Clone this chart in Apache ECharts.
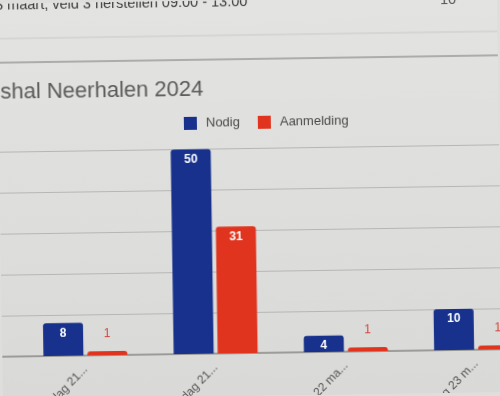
<!DOCTYPE html>
<html>
<head>
<meta charset="utf-8">
<script src="https://cdn.jsdelivr.net/npm/echarts@6/dist/echarts.min.js"></script>
<style>
  html, body { margin: 0; padding: 0; background: #dededc; overflow: hidden; width: 500px; height: 396px; }
  #c { width: 500px; height: 396px; transform: rotate(-0.85deg); transform-origin: 250px 198px; }
</style>
</head>
<body>
<div id="c"></div>
<script>
const headerText = '3 maart, veld 3 herstellen 09.00 - 13.00';
const headerCount = '10';
const titleText = 'shal Neerhalen 2024';
const seriesNames = ['Nodig', 'Aanmelding'];
const categories = [
  'Donderdag 21 maart 09.00 - 13.00',
  'Donderdag 21 maart 13.00 - 17.00',
  'Vrijdag 22 maart 09.00 - 13.00',
  'Zaterdag 23 maart 09.00 - 13.00'
];
const nodig = [8, 50, 4, 10];
const aanmelding = [1, 31, 1, 1];
const yMin = 0, yMax = 50, yInterval = 10;

const BLUE = '#17318c';
const RED = '#e0341f';
const FONT = 'Liberation Sans, Arial, sans-serif';

const chart = echarts.init(document.getElementById('c'), null, { renderer: 'canvas' });

function labelFor(v, color) {
  if (v < 5 && color === RED) {
    return { show: true, position: 'top', distance: 11, color: '#d4453a', fontWeight: 'normal', fontSize: 12 };
  }
  return { show: true, position: 'insideTop', distance: 4, color: '#ffffff', fontWeight: 'bold', fontSize: 12 };
}

const gridTop = 148.5, gridHeight = 204.5;

chart.setOption({
  backgroundColor: {
    type: 'linear', x: 0, y: 0, x2: 0, y2: 1,
    colorStops: [{ offset: 0, color: '#e3e3e1' }, { offset: 1, color: '#d9d9d7' }]
  },
  animation: false,
  textStyle: { fontFamily: FONT },
  graphic: [
    { type: 'text', left: -2, top: -6, style: { text: headerText, fontSize: 14.5, fill: '#3a3a3a', fontFamily: FONT } },
    { type: 'text', left: 443, top: -5, style: { text: headerCount, fontSize: 14.5, fill: '#555', fontFamily: FONT } },
    { type: 'line', shape: { x1: -10, y1: 35, x2: 510, y2: 35 }, style: { stroke: '#c9c9c7', lineWidth: 1 } },
    { type: 'line', shape: { x1: -10, y1: 59, x2: 510, y2: 59 }, style: { stroke: '#9a9a98', lineWidth: 1.5 } }
  ],
  title: {
    text: titleText,
    left: 2, top: 78, padding: 0,
    textStyle: { fontSize: 22, fontWeight: 'normal', color: '#5a5a5a', fontFamily: FONT }
  },
  legend: {
    data: seriesNames,
    left: 185, top: 116, padding: 0,
    itemWidth: 13, itemHeight: 13, itemGap: 18,
    icon: 'rect',
    textStyle: { fontSize: 13, color: '#4a4a4a', padding: [0, 0, 0, 4] }
  },
  grid: [
    { left: -10, top: gridTop, width: 530, height: gridHeight, outerBoundsMode: 'none', containLabel: false },
    { left: 18, top: gridTop, width: 521, height: gridHeight, outerBoundsMode: 'none', containLabel: false }
  ],
  xAxis: [
    {
      gridIndex: 0, type: 'value', min: 0, max: 1,
      axisLine: { show: true, onZero: false, lineStyle: { color: '#8c8c8a', width: 1.5 } },
      axisTick: { show: false }, axisLabel: { show: false }, splitLine: { show: false }
    },
    {
      gridIndex: 1, type: 'category', data: categories,
      axisLine: { show: false },
      axisTick: { show: false },
      axisLabel: {
        interval: 0, rotate: 45, margin: 12, fontSize: 12, color: '#555',
        width: 90, overflow: 'truncate', ellipsis: '...'
      }
    }
  ],
  yAxis: [
    {
      gridIndex: 0, type: 'value', min: yMin, max: yMax, interval: yInterval,
      axisLabel: { show: false }, axisLine: { show: false }, axisTick: { show: false },
      splitLine: { lineStyle: { color: '#b6b6b4', width: 1 } }
    },
    {
      gridIndex: 1, type: 'value', min: yMin, max: yMax, interval: yInterval,
      axisLabel: { show: false }, axisLine: { show: false }, axisTick: { show: false },
      splitLine: { show: false }
    }
  ],
  series: [
    {
      name: seriesNames[0], type: 'bar', xAxisIndex: 1, yAxisIndex: 1, barWidth: 40, barGap: '10%',
      itemStyle: { color: BLUE, borderRadius: [3, 3, 0, 0] },
      data: nodig.map(v => ({ value: v, label: labelFor(v, BLUE) }))
    },
    {
      name: seriesNames[1], type: 'bar', xAxisIndex: 1, yAxisIndex: 1, barWidth: 40, barGap: '10%',
      itemStyle: { color: RED, borderRadius: [3, 3, 0, 0] },
      data: aanmelding.map(v => ({ value: v, label: labelFor(v, RED) }))
    }
  ]
});
</script>
</body>
</html>
